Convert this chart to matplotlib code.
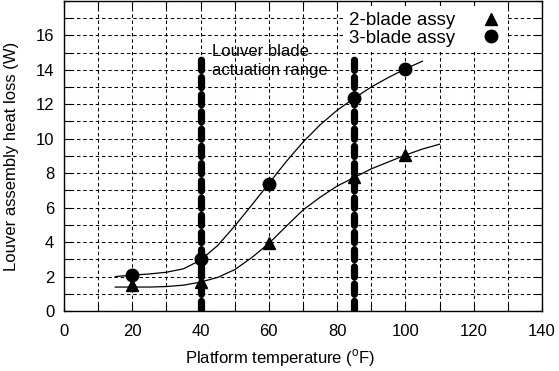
import matplotlib
matplotlib.use('Agg')
import matplotlib.pyplot as plt
from matplotlib.ticker import MultipleLocator

plt.rcParams['font.family'] = ['Liberation Sans', 'DejaVu Sans']
plt.rcParams['mathtext.fontset'] = 'custom'
plt.rcParams['mathtext.rm'] = 'Liberation Sans'
plt.rcParams['lines.scale_dashes'] = False

# measured points
temp_pts = [20, 40, 60, 85, 100]
two_blade = [1.5, 1.7, 3.95, 7.75, 9.05]
three_blade = [2.1, 3.0, 7.4, 12.35, 14.05]

# fitted curves
fit2_t = [15, 20, 25, 30, 35, 40, 45, 50, 55, 60, 65, 70, 75, 80, 85, 90, 95, 100, 105, 110]
fit2_w = [1.39, 1.39, 1.39, 1.42, 1.5, 1.68, 1.95, 2.4, 3.1, 3.92, 4.9, 5.86, 6.6, 7.25, 7.75, 8.25, 8.65, 9.05, 9.4, 9.68]
fit3_t = [15, 20, 25, 30, 35, 40, 45, 50, 55, 60, 65, 70, 75, 80, 85, 90, 95, 100, 105]
fit3_w = [2.0, 2.08, 2.15, 2.25, 2.45, 2.95, 3.8, 4.93, 6.15, 7.4, 8.65, 9.8, 10.8, 11.65, 12.35, 13.0, 13.55, 14.05, 14.5]

# louver actuation range
range_t = [40, 85]
range_top = 14.75

fig = plt.figure(figsize=(5.59, 3.71), dpi=100)
ax = fig.add_axes([0.1145, 0.1617, 0.855, 0.836])

for t in range_t:
    ax.plot([t, t], [0, range_top], color='k', lw=5.2, linestyle=(0, (7.3, 5.1)),
            dash_capstyle='round', solid_capstyle='round', zorder=3)

ax.plot(fit2_t, fit2_w, color='k', lw=0.9, zorder=4)
ax.plot(fit3_t, fit3_w, color='k', lw=0.9, zorder=4)
ax.plot(temp_pts, two_blade, '^', color='k', ms=9, label='2-blade assy', zorder=5)
ax.plot(temp_pts, three_blade, 'o', color='k', ms=9, label='3-blade assy', zorder=5)

ax.text(43.3, 14.5, 'Louver blade\nactuation range', fontsize=12, va='center',
        ha='left', linespacing=1.35, zorder=6)

ax.set_xlim(0, 140)
ax.set_ylim(0, 18)
ax.set_xticks(range(0, 141, 20))
ax.set_yticks(range(0, 17, 2))
ax.xaxis.set_minor_locator(MultipleLocator(10))
ax.yaxis.set_minor_locator(MultipleLocator(1))
ax.grid(True, which='both', color='k', lw=0.75, linestyle=(0, (2.5, 2)))
ax.tick_params(which='both', direction='in', top=True, right=True, length=5, width=0.8,
               labelsize=12)
ax.tick_params(axis='x', pad=9)
ax.tick_params(axis='y', pad=7)
for s in ax.spines.values():
    s.set_linewidth(1.0)

ax.set_xlabel(r'Platform temperature ($^{\mathrm{o}}$F)', fontsize=12)
ax.set_ylabel('Louver assembly heat loss (W)', fontsize=12)
ax.xaxis.set_label_coords(0.452, -0.118)
ax.yaxis.set_label_coords(-0.095, 0.5)

leg = ax.legend(loc='upper right', bbox_to_anchor=(0.925, 0.982), markerfirst=False,
                fontsize=13.5, frameon=True, fancybox=False, edgecolor='none',
                framealpha=1, handlelength=1.0, handletextpad=1.4,
                labelspacing=0.02, borderpad=0.3, borderaxespad=0)
leg.set_zorder(10)

fig.savefig('out.png', dpi=100)
